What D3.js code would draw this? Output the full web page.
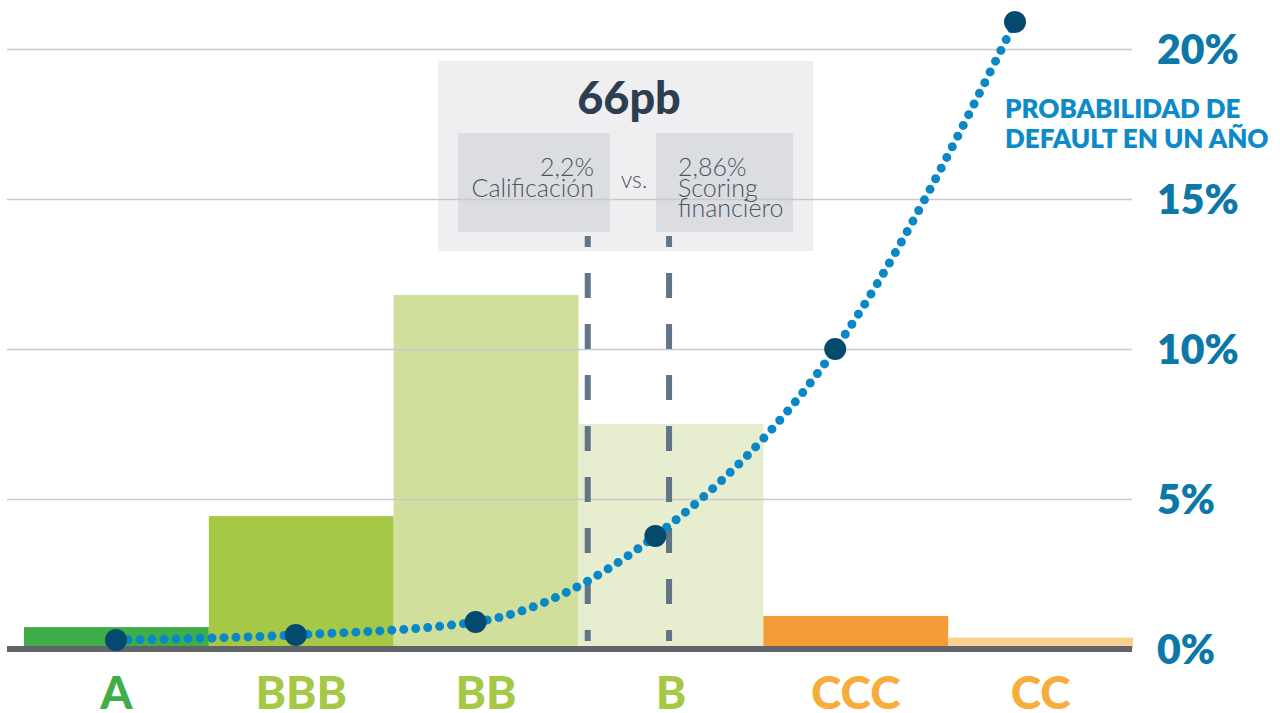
<!DOCTYPE html>
<html>
<head>
<meta charset="utf-8">
<script src="https://cdn.jsdelivr.net/npm/d3@7"></script>
<style>
  body { margin: 0; background: #fff; }
  svg { display: block; font-family: Lato, "Open Sans", sans-serif; }
</style>
</head>
<body>
<script>
// data
const categories = ["A", "BBB", "BB", "B", "CCC", "CC"];
const distribution = [0.73, 4.43, 11.8, 7.5, 1.1, 0.38];      // bars, in % units of the same axis
const defaultProb = [0.3, 0.47, 0.9, 3.77, 10.0, 20.9];       // PD curve, %
const yTicks = [0, 5, 10, 15, 20];
const axisTitle = ["PROBABILIDAD DE", "DEFAULT EN UN AÑO"];

const barColors = ["#3fae49", "#a5c947", "#d0df9c", "#e6eecf", "#f49d38", "#fbcf8e"];
const labelColors = ["#3fae49", "#a5c947", "#a5c947", "#a5c947", "#f7ac3c", "#f7ac3c"];

// annotation
const annotTitle = "66pb";
const annotLeft = ["2,2%", "Calificación"];
const annotRight = ["2,86%", "Scoring", "financiero"];
const markerCategory = "B";
const markerOffsets = [0.05, 0.49]; // position inside the B band

let width = 1280, height = 713;
let svg = null;
let x, xp, y = null;

appendSvg("body");
setupScales();
drawChart();

function appendSvg(domElement) {
  svg = d3.select(domElement).append("svg")
    .attr("width", width)
    .attr("height", height);
}

function setupScales() {
  x = d3.scaleBand().domain(categories).range([24, 1133]).padding(0);
  // the PD points sit on their own evenly spaced positions
  xp = d3.scalePoint().domain(categories).range([116, 1015]);
  y = d3.scaleLinear().domain([0, 20]).range([649, 49]);
}

function drawChart() {
  appendBars();
  appendAnnotationBoxes();
  appendGrid();
  appendAnnotationText();
  appendMarkers();
  appendBaseline();
  appendCurve();
  appendXAxis();
  appendAxisTitle();
}

function appendBars() {
  svg.append("g").selectAll("rect")
    .data(categories)
    .enter().append("rect")
    .attr("x", d => x(d))
    .attr("width", x.bandwidth())
    .attr("y", (d, i) => y(distribution[i]))
    .attr("height", (d, i) => y(0) - y(distribution[i]))
    .attr("fill", (d, i) => barColors[i]);
}

function appendGrid() {
  const g = svg.append("g")
    .attr("transform", "translate(7,0)")
    .call(d3.axisRight(y).tickValues(yTicks).tickSize(1125).tickPadding(25)
      .tickFormat(d => d + "%"));
  g.select(".domain").remove();
  g.selectAll(".tick line").attr("stroke", "#c9c9c9").attr("stroke-width", 1.5);
  g.selectAll(".tick text")
    .attr("fill", "#0b78a8")
    .attr("font-size", 41)
    .attr("font-weight", 800)
    .attr("font-family", "Lato, sans-serif")
    .attr("dy", "0.36em");
}

function appendAnnotationBoxes() {
  svg.append("rect")
    .attr("x", 438).attr("y", 61).attr("width", 375).attr("height", 190)
    .attr("fill", "#efeff1");
  svg.append("rect")
    .attr("x", 458).attr("y", 133).attr("width", 152).attr("height", 99)
    .attr("fill", "#dcdde0");
  svg.append("rect")
    .attr("x", 656).attr("y", 133).attr("width", 137).attr("height", 99)
    .attr("fill", "#dcdde0");
}

function appendAnnotationText() {
  svg.append("text")
    .attr("x", 629).attr("y", 114)
    .attr("text-anchor", "middle")
    .attr("font-size", 45).attr("font-weight", 900)
    .attr("fill", "#2d3e50")
    .text(annotTitle);

  const fill = "#4a5566";

  svg.append("g").selectAll("text")
    .data(annotLeft)
    .enter().append("text")
    .attr("x", 594)
    .attr("y", (d, i) => 176 + i * 21)
    .attr("text-anchor", "end")
    .attr("font-size", 25).attr("font-weight", 300)
    .attr("fill", fill)
    .text(d => d);

  svg.append("text")
    .attr("x", 634).attr("y", 188)
    .attr("text-anchor", "middle")
    .attr("font-size", 23).attr("font-weight", 300)
    .attr("fill", fill)
    .text("vs.");

  svg.append("g").selectAll("text")
    .data(annotRight)
    .enter().append("text")
    .attr("x", 678)
    .attr("y", (d, i) => 176 + i * 20.5)
    .attr("font-size", 25).attr("font-weight", 300)
    .attr("fill", fill)
    .text(d => d);
}

function appendMarkers() {
  svg.append("g").selectAll("line")
    .data(markerOffsets)
    .enter().append("line")
    .attr("x1", d => x(markerCategory) + d * x.bandwidth())
    .attr("x2", d => x(markerCategory) + d * x.bandwidth())
    .attr("y1", 236)
    .attr("y2", 641)
    .attr("stroke", "#617587")
    .attr("stroke-width", 6)
    .attr("stroke-dasharray", "25,26")
    .attr("stroke-dashoffset", 14);
}

function appendBaseline() {
  svg.append("line")
    .attr("x1", 7).attr("x2", 1132)
    .attr("y1", y(0)).attr("y2", y(0))
    .attr("stroke", "#636468")
    .attr("stroke-width", 6);
}

function appendCurve() {
  const line = d3.line()
    .x(d => xp(d))
    .y((d, i) => y(defaultProb[i]))
    .curve(d3.curveMonotoneX);

  svg.append("path")
    .datum(categories)
    .attr("d", line)
    .attr("fill", "none")
    .attr("stroke", "#0a87c7")
    .attr("stroke-width", 9)
    .attr("stroke-linecap", "round")
    .attr("stroke-dasharray", "0,12");

  svg.append("g").selectAll("circle")
    .data(categories)
    .enter().append("circle")
    .attr("cx", d => xp(d))
    .attr("cy", (d, i) => y(defaultProb[i]))
    .attr("r", 11)
    .attr("fill", "#034a6e");
}

function appendXAxis() {
  const g = svg.append("g")
    .attr("transform", `translate(0, ${y(0)})`)
    .call(d3.axisBottom(x).tickSize(0).tickPadding(27));
  g.select(".domain").remove();
  g.selectAll(".tick text")
    .attr("font-size", 46)
    .attr("font-weight", 900)
    .attr("font-family", "Lato, sans-serif")
    .attr("fill", (d, i) => labelColors[i]);
}

function appendAxisTitle() {
  svg.append("g").selectAll("text")
    .data(axisTitle)
    .enter().append("text")
    .attr("x", 1005)
    .attr("y", (d, i) => 118 + i * 30)
    .attr("font-size", 26)
    .attr("font-weight", 800)
    .attr("fill", "#0d8ac8")
    .text(d => d);
}
</script>
</body>
</html>
